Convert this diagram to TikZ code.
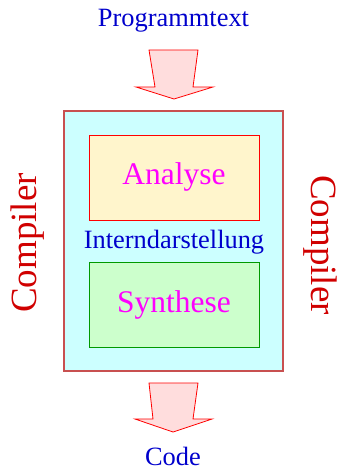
\documentclass[tikz,border=0pt]{standalone}
\usepackage{fontspec}
\setmainfont{Liberation Serif}
\definecolor{lblue}{HTML}{0000CC}
\definecolor{lmag}{HTML}{FF00FF}
\definecolor{lred}{HTML}{D00000}
\definecolor{outerfill}{HTML}{CCFFFF}
\definecolor{outerdraw}{HTML}{C85050}
\definecolor{anafill}{HTML}{FFF5CC}
\definecolor{synfill}{HTML}{CCFFCC}
\definecolor{syndraw}{HTML}{009900}
\definecolor{arrfill}{HTML}{FFDDDD}
\begin{document}
\begin{tikzpicture}[x=1pt,y=-1pt,
  bluetext/.style={text=lblue,font=\fontsize{26.4}{30}\selectfont,anchor=base,inner sep=0pt},
  phasetext/.style={text=lmag,font=\fontsize{31.5}{36}\selectfont,anchor=base,inner sep=0pt},
  comptext/.style={text=lred,font=\fontsize{37}{42}\selectfont,anchor=base,inner sep=0pt},
  bigarrow/.style={fill=arrfill,draw=red,line width=0.8pt,line join=miter}]
\useasboundingbox (0,0) rectangle (342,470);
% outer box
\draw[fill=outerfill,draw=outerdraw,line width=1.2pt] (64,111) rectangle (283,371);
\coordinate (outerN) at (173.5,111);
\coordinate (outerS) at (173.5,371);
% phase boxes
\draw[fill=anafill,draw=red,line width=0.8pt] (89,135) rectangle (259,220);
\draw[fill=synfill,draw=syndraw,line width=0.8pt] (89,262) rectangle (259,347);
\node[phasetext] (ana) at (174,185) {Analyse};
\node[phasetext] (syn) at (174,312) {Synthese};
\node[bluetext] (intern) at (174,248) {Interndarstellung};
% labels
\node[bluetext] (prog) at (173.5,27) {Programmtext};
\node[bluetext] (code) at (173,465.5) {Code};
\node[comptext,rotate=90] (cl) at (36.5,243) {Compiler};
\node[comptext,rotate=-90] (cr) at (311.5,245) {Compiler};
% arrows
\draw[bigarrow] (149,50) -- (198,50) -- (193,87) -- (213,87) -- (174,99) -- (136,87) -- (155,87) -- cycle;
\draw[bigarrow] (149,383) -- (198,383) -- (193,419) -- (212,419) -- (173,432) -- (135,419) -- (153,419) -- cycle;
\end{tikzpicture}
\end{document}
